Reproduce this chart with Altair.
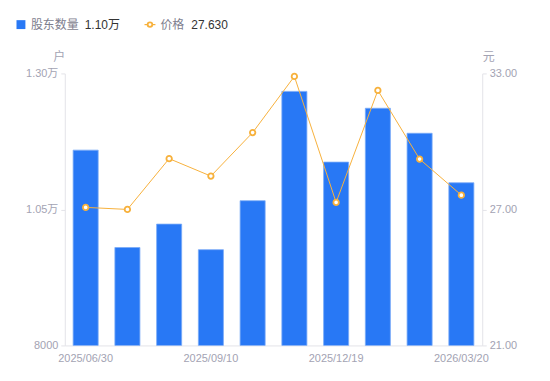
import altair as alt
import pandas as pd

dates = ["2025/06/30", "2025/07/18", "2025/08/20", "2025/09/10", "2025/09/30",
         "2025/11/10", "2025/12/19", "2025/12/31", "2026/02/10", "2026/03/20"]
holders = [11590, 9800, 10230, 9760, 10660, 12670, 11370, 12360, 11900, 10990]
price = [27.09, 27.00, 29.24, 28.47, 30.39, 32.87, 27.31, 32.25, 29.22, 27.63]
shown_dates = ["2025/06/30", "2025/09/10", "2025/12/19", "2026/03/20"]
left_ticks = [8000, 10500, 13000]
right_ticks = [21, 27, 33]

FONT = 'Liberation Sans, "Noto Sans CJK SC", sans-serif'
BLUE = "#2878f5"
ORANGE = "#f7b13c"
GRAY_LABEL = "#a3a3b3"
AXIS_LINE = "#e3e3e8"

df = pd.DataFrame({"date": dates, "holders": holders, "price": price})

x_enc = alt.X("date:N", sort=dates, title=None,
              scale=alt.Scale(paddingInner=0.4, paddingOuter=0.2),
              axis=alt.Axis(values=shown_dates, labelAngle=0, labelColor=GRAY_LABEL,
                            labelFontSize=11, labelFont=FONT, ticks=False,
                            domainColor=AXIS_LINE, labelPadding=7, grid=False))

bars = alt.Chart(df).mark_bar(color=BLUE, stroke="#7aabf7", strokeWidth=0.8, clip=True).encode(
    x=x_enc,
    y=alt.Y("holders:Q", scale=alt.Scale(domain=[8000, 13000], nice=False, zero=False),
            axis=alt.Axis(values=left_ticks, orient="left", grid=False,
                          labelExpr="datum.value >= 10000 ? format(datum.value/10000, '.2f') + '万' : format(datum.value, 'd')",
                          labelColor=GRAY_LABEL, labelFontSize=11, labelFont=FONT,
                          domainColor=AXIS_LINE, tickColor=AXIS_LINE, tickSize=4,
                          labelPadding=3,
                          title="户", titleAngle=0, titleX=-6, titleY=-10,
                          titleAlign="center", titleBaseline="bottom",
                          titleColor=GRAY_LABEL, titleFontWeight="normal",
                          titleFontSize=12, titleFont=FONT)),
)

price_y = alt.Y("price:Q", scale=alt.Scale(domain=[21, 33], nice=False, zero=False),
                axis=alt.Axis(values=right_ticks, orient="right", grid=False, format=".2f",
                              labelColor=GRAY_LABEL, labelFontSize=11, labelFont=FONT,
                              domainColor=AXIS_LINE, tickColor=AXIS_LINE, tickSize=4,
                              labelPadding=3,
                              title="元", titleAngle=0, titleX=6, titleY=-10,
                              titleAlign="center", titleBaseline="bottom",
                              titleColor=GRAY_LABEL, titleFontWeight="normal",
                              titleFontSize=12, titleFont=FONT))

line = alt.Chart(df).mark_line(color=ORANGE, strokeWidth=1).encode(
    x=alt.X("date:N", sort=dates), y=price_y)
pts = alt.Chart(df).mark_point(shape="circle", filled=True, fill="white", stroke=ORANGE,
                               strokeWidth=1.8, size=30, opacity=1).encode(
    x=alt.X("date:N", sort=dates), y=alt.Y("price:Q"))

price_layer = alt.layer(line, pts)

# legend built from text marks
last_holders = f"{holders[-1] / 10000:.2f}万"
last_price = f"{price[-1]:.3f}"
one = pd.DataFrame({"k": [0]})
LY = -49
leg_sq = alt.Chart(one).mark_square(color=BLUE, size=80, opacity=1).encode(
    x=alt.value(-44), y=alt.value(LY))
leg_t1 = alt.Chart(one).mark_text(text="股东数量", align="left", baseline="middle",
                                  fontSize=12, font=FONT, color="#7e7e8e").encode(
    x=alt.value(-34), y=alt.value(LY))
leg_v1 = alt.Chart(one).mark_text(text=last_holders, align="left", baseline="middle",
                                  fontSize=12, font=FONT, color="#333333").encode(
    x=alt.value(20), y=alt.value(LY))
leg_rule = alt.Chart(one).mark_rule(color=ORANGE, strokeWidth=1.2).encode(
    x=alt.value(80), x2=alt.value(91), y=alt.value(LY))
leg_pt = alt.Chart(one).mark_point(shape="circle", filled=True, fill="white", stroke=ORANGE,
                                   strokeWidth=1.8, size=22, opacity=1).encode(
    x=alt.value(85.5), y=alt.value(LY))
leg_t2 = alt.Chart(one).mark_text(text="价格", align="left", baseline="middle",
                                  fontSize=12, font=FONT, color="#7e7e8e").encode(
    x=alt.value(96), y=alt.value(LY))
leg_v2 = alt.Chart(one).mark_text(text=last_price, align="left", baseline="middle",
                                  fontSize=12, font=FONT, color="#333333").encode(
    x=alt.value(127), y=alt.value(LY))

chart = alt.layer(bars, price_layer, leg_sq, leg_t1, leg_v1, leg_rule, leg_pt, leg_t2, leg_v2
                  ).resolve_scale(y="independent").properties(
    width=419, height=273,
    autosize=alt.AutoSizeParams(type="none"),
    padding={"left": 57, "top": 65, "right": 60, "bottom": 24},
).configure_view(stroke=None)

chart.save("out.html", embed_options={"renderer": "svg", "actions": False})
